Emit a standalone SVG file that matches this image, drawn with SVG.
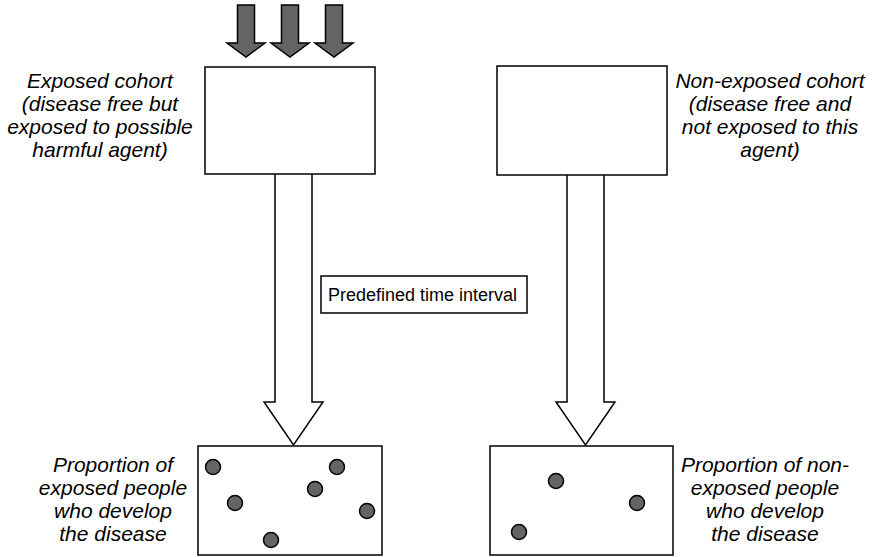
<svg xmlns="http://www.w3.org/2000/svg" width="874" height="557" viewBox="0 0 874 557">
<style>
.box{fill:#fff;stroke:#000;stroke-width:1.5}
.gar{fill:#646464;stroke:#000;stroke-width:1.5;stroke-linejoin:miter}
.har{fill:#fff;stroke:#000;stroke-width:1.5}
.dot{fill:#646464;stroke:#000;stroke-width:1.5}
.lbl{font-family:"Liberation Sans",Arial,sans-serif;font-style:italic;font-size:21px;fill:#000;text-anchor:middle}
.tl{font-family:"Liberation Sans",Arial,sans-serif;font-size:18px;fill:#000}
</style>
<rect width="874" height="557" fill="#fff"/>
<g id="connectors">
<path class="gar" d="M237.5,5 H254.5 V43 H265 L246,57 L227,43 H237.5 Z"/>
<path class="gar" d="M281.5,5 H298.5 V43 H309 L290,57 L271,43 H281.5 Z"/>
<path class="gar" d="M325.5,5 H342.5 V43 H353 L334,57 L315,43 H325.5 Z"/>
<path class="har" d="M275,174 V402 H264 L293.5,445 L323,402 H312 V174"/>
<path class="har" d="M567,175 V402 H556 L585.5,445 L615,402 H604 V175"/>
</g>
<g id="exposed-cohort">
<rect class="box" x="205" y="67" width="170" height="107"/>
<text class="lbl"><tspan x="100" y="88">Exposed cohort</tspan><tspan x="100" y="111">(disease free but</tspan><tspan x="100" y="134">exposed to possible</tspan><tspan x="100" y="157">harmful agent)</tspan></text>
</g>
<g id="nonexposed-cohort">
<rect class="box" x="497" y="66" width="170" height="109"/>
<text class="lbl"><tspan x="770" y="88">Non-exposed cohort</tspan><tspan x="770" y="111">(disease free and</tspan><tspan x="770" y="134">not exposed to this</tspan><tspan x="770" y="157">agent)</tspan></text>
</g>
<g id="time-interval">
<rect class="box" x="321" y="276" width="206" height="37"/>
<text class="tl" x="328" y="301">Predefined time interval</text>
</g>
<g id="exposed-outcome">
<rect class="box" x="198" y="446" width="184" height="109"/>
<circle class="dot" cx="213" cy="467" r="7.5"/>
<circle class="dot" cx="235" cy="503" r="7.5"/>
<circle class="dot" cx="271" cy="540" r="7.5"/>
<circle class="dot" cx="315" cy="489" r="7.5"/>
<circle class="dot" cx="337" cy="467" r="7.5"/>
<circle class="dot" cx="367" cy="511" r="7.5"/>
<text class="lbl"><tspan x="113" y="472">Proportion of</tspan><tspan x="113" y="495">exposed people</tspan><tspan x="113" y="518">who develop</tspan><tspan x="113" y="541">the disease</tspan></text>
</g>
<g id="nonexposed-outcome">
<rect class="box" x="490" y="446" width="183" height="109"/>
<circle class="dot" cx="519" cy="532" r="7.5"/>
<circle class="dot" cx="556" cy="481" r="7.5"/>
<circle class="dot" cx="637" cy="503" r="7.5"/>
<text class="lbl"><tspan x="765" y="472">Proportion of non-</tspan><tspan x="765" y="495">exposed people</tspan><tspan x="765" y="518">who develop</tspan><tspan x="765" y="541">the disease</tspan></text>
</g>
</svg>
